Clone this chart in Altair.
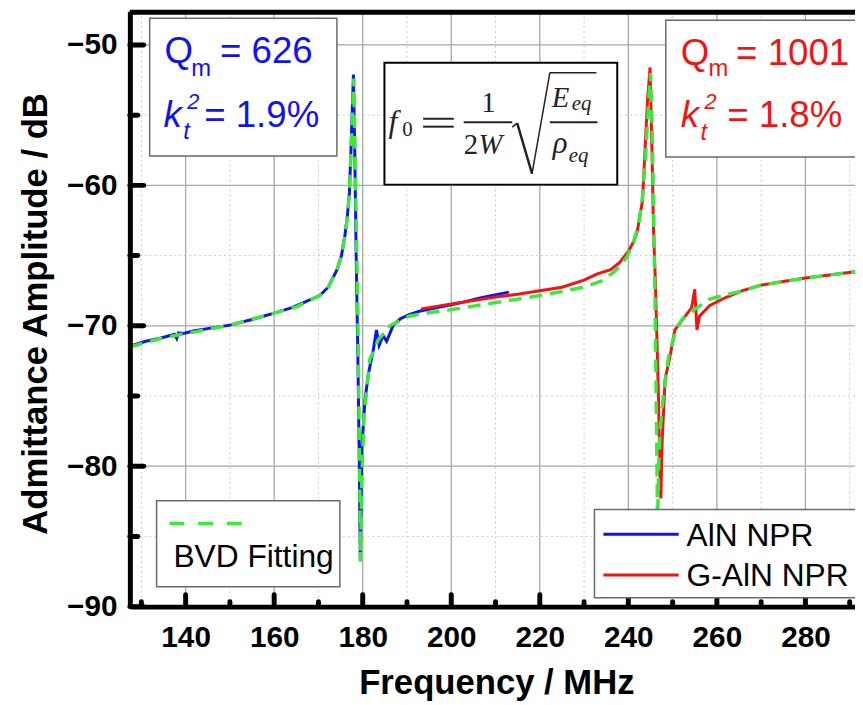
import altair as alt
import pandas as pd

# ---------------- data ----------------
blue_f = [127.4, 131, 134, 137.5, 138.0, 138.4, 139.5, 142, 146, 150, 155, 160, 164, 167, 170.3, 172.2,
          174.2, 175.2, 176.0, 176.5, 177.0, 177.4, 177.9, 178.2, 178.5, 178.9, 179.2, 179.45, 179.8,
          180.5, 181.3, 182.4, 183.1, 183.7, 184.6, 185.4, 186.9, 188.5, 190.5, 193, 196, 200, 203,
          206, 209, 213]
blue_a = [-71.45, -71.1, -70.9, -70.6, -70.9, -70.5, -70.55, -70.35, -70.15, -69.95, -69.55, -69.1,
          -68.7, -68.3, -67.85, -67.25, -66.0, -65.0, -63.5, -62.3, -60.5, -57.0, -52.1, -57.5, -64.5,
          -72.0, -79.0, -86.7, -78.8, -75.3, -73.4, -71.7, -70.3, -71.4, -70.7, -71.1, -69.95, -69.5,
          -69.2, -68.95, -68.75, -68.5, -68.3, -68.05, -67.85, -67.6]

red_f = [193.2, 196, 200, 205, 210, 215, 220, 225, 230, 233, 236, 238, 240, 241.2, 242.0, 243.2,
         244.3, 244.9, 245.3, 245.7, 246.1, 246.4, 246.8, 247.1, 247.35, 247.6, 248.3, 249.4, 250.5,
         252.4, 254.3, 255.0, 255.5, 256.1, 258.4, 262.1, 265.8, 270, 275, 280, 285, 291.2]
red_a = [-68.8, -68.65, -68.45, -68.2, -67.95, -67.75, -67.5, -67.25, -66.75, -66.3, -66.0, -65.5,
         -64.7, -64.0, -63.3, -61.1, -54.1, -51.6, -57.0, -63.3, -66.8, -70.3, -75.0, -80.0, -82.3,
         -78.5, -73.8, -72.2, -70.3, -69.5, -68.7, -67.4, -70.3, -69.3, -68.55, -67.97, -67.5, -67.1,
         -66.85, -66.6, -66.4, -66.15]

bvd_f = [127.4, 135, 140, 150, 160, 165, 170.3, 172.2, 174.2, 175.2, 176.0, 176.5, 177.0, 177.5,
         178.0, 178.4, 178.9, 179.3, 179.5, 179.8, 180.3, 181.6, 183.5, 186.1, 190.6, 194.3, 200, 205,
         210, 215, 220, 225, 230, 234, 237, 239.7, 241.2, 242.3, 243.2, 243.9, 244.6, 245.0, 245.4,
         245.8, 246.1, 246.4, 246.6, 246.85, 247.2, 247.9, 249.1, 250.9, 252.5, 254.6, 258.4, 262,
         265.8, 270, 275, 280, 285, 291.2]
bvd_a = [-71.5, -70.85, -70.55, -69.95, -69.1, -68.65, -67.85, -67.25, -66.0, -65.0, -63.6, -62.4,
         -60.5, -56.5, -52.4, -60.0, -69.0, -80.0, -86.8, -81.0, -76.4, -72.4, -71.0, -70.0, -69.3,
         -69.1, -68.85, -68.6, -68.35, -68.1, -67.85, -67.55, -67.25, -66.8, -66.1, -65.1, -64.0,
         -62.8, -60.8, -58.0, -54.0, -52.0, -56.0, -63.5, -70.0, -78.0, -84.5, -80.0, -77.4, -75.0,
         -72.2, -70.1, -69.4, -68.9, -68.1, -67.8, -67.5, -67.1, -66.85, -66.6, -66.4, -66.15]

x_major = [140, 160, 180, 200, 220, 240, 260, 280]
x_minor = [130, 150, 170, 190, 210, 230, 250, 270, 290]
y_major = [-90, -80, -70, -60, -50]
y_minor = [-85, -75, -65, -55]

series_names = ["AlN NPR", "G-AlN NPR", "BVD Fitting"]

# ---------------- styling ----------------
W, H = 732, 601
FONT = "Liberation Sans"
SERIF = "Liberation Serif"
BLUE = "#1212f0"
RED = "#f01414"
GREEN = "#3de83d"
FORM = "#222222"

xs = alt.Scale(domain=[127.4, 291.2], nice=False, zero=False)
ys = alt.Scale(domain=[-90, -47.6], nice=False, zero=False)

x_axis = alt.Axis(values=x_major, format="d", grid=False, ticks=False,
                  labelFont=FONT, labelFontSize=30, labelFontWeight="bold", labelColor="black",
                  labelPadding=16, labelFlush=False, labelOverlap=False,
                  domainColor="black", domainWidth=5,
                  title="Frequency / MHz", titleFont=FONT, titleFontSize=35, titleFontWeight="bold",
                  titleColor="black", titleX=370, titleY=88, titleBaseline="alphabetic",
                  titleAlign="center", zindex=1)
y_axis = alt.Axis(values=y_major, format="d", grid=False, ticks=False,
                  labelFont=FONT, labelFontSize=30, labelFontWeight="bold", labelColor="black",
                  labelPadding=13, labelFlush=False, labelOverlap=False,
                  domainColor="black", domainWidth=5,
                  title="Admittance Amplitude / dB", titleFont=FONT, titleFontSize=35,
                  titleFontWeight="bold", titleColor="black", titleAngle=270, titleX=-84, titleY=305,
                  titleBaseline="alphabetic", titleAlign="center", zindex=1)

X = lambda f: alt.X(f, scale=xs, axis=x_axis)
Y = lambda f: alt.Y(f, scale=ys, axis=y_axis)

one = pd.DataFrame({"k": [0]})


def vgrid(vals, **kw):
    return alt.Chart(pd.DataFrame({"v": vals})).mark_rule(**kw).encode(x=X("v:Q"))


def hgrid(vals, **kw):
    return alt.Chart(pd.DataFrame({"v": vals})).mark_rule(**kw).encode(y=Y("v:Q"))


def seg(x1, y1, x2, y2, **kw):
    return alt.Chart(one).mark_rule(**kw).encode(
        x=alt.value(x1), y=alt.value(y1), x2=alt.value(x2), y2=alt.value(y2))


def box(x1, y1, x2, y2, stroke, sw):
    return alt.Chart(one).mark_rect(fill="white", stroke=stroke, strokeWidth=sw).encode(
        x=alt.value(x1), y=alt.value(y1), x2=alt.value(x2), y2=alt.value(y2))


def txt(s, x, y, size, color="black", font=FONT, style="normal", align="left"):
    return alt.Chart(one).mark_text(text=s, font=font, fontSize=size, fontStyle=style,
                                    color=color, align=align, baseline="alphabetic").encode(
        x=alt.value(x), y=alt.value(y))


layers = []
# grid
layers.append(vgrid(x_minor, color="#c9c9c9", strokeWidth=1, strokeDash=[2, 3]))
layers.append(hgrid(y_minor, color="#c9c9c9", strokeWidth=1, strokeDash=[2, 3]))
layers.append(vgrid(x_major, color="#a8a8a8", strokeWidth=1.3))
layers.append(hgrid(y_major, color="#a8a8a8", strokeWidth=1.3))

# curves
blue_df = pd.DataFrame({"f": blue_f, "a": blue_a})
red_df = pd.DataFrame({"f": red_f, "a": red_a})
bvd_df = pd.DataFrame({"f": bvd_f, "a": bvd_a})
layers.append(alt.Chart(blue_df).mark_line(color=BLUE, strokeWidth=3, clip=True).encode(
    x=X("f:Q"), y=Y("a:Q")))
layers.append(alt.Chart(red_df).mark_line(color=RED, strokeWidth=3, clip=True).encode(
    x=X("f:Q"), y=Y("a:Q")))
layers.append(alt.Chart(bvd_df).mark_line(color=GREEN, strokeWidth=3.5, strokeDash=[13, 8],
                                          clip=True).encode(x=X("f:Q"), y=Y("a:Q")))

# inward ticks + top frame
tk = dict(color="black", strokeWidth=5, strokeCap="round")
layers.append(alt.Chart(pd.DataFrame({"v": x_major})).mark_rule(**tk).encode(
    x=X("v:Q"), y=alt.value(H), y2=alt.value(H - 12)))
layers.append(alt.Chart(pd.DataFrame({"v": x_minor})).mark_rule(**tk).encode(
    x=X("v:Q"), y=alt.value(H), y2=alt.value(H - 5)))
layers.append(alt.Chart(pd.DataFrame({"v": y_major})).mark_rule(**tk).encode(
    y=Y("v:Q"), x=alt.value(0), x2=alt.value(14)))
layers.append(alt.Chart(pd.DataFrame({"v": y_minor})).mark_rule(**tk).encode(
    y=Y("v:Q"), x=alt.value(0), x2=alt.value(8)))
layers.append(seg(0, 1, W, 1, color="black", strokeWidth=5))

# Qm / kt2 box (blue)
layers.append(box(20, 7, 209, 146, "#6a6a6a", 1.5))
layers.append(txt("Q", 35, 52, 37, BLUE))
layers.append(txt("m", 62, 65, 24, BLUE))
layers.append(txt("= 626", 91, 52, 37, BLUE))
layers.append(txt("k", 34, 117, 37, BLUE, style="italic"))
layers.append(txt("2", 58, 99, 22, BLUE, style="italic"))
layers.append(txt("t", 54, 129, 24, BLUE, style="italic"))
layers.append(txt("= 1.9%", 75, 117, 37, BLUE))

# Qm / kt2 box (red)
layers.append(box(541, 9, 760, 147, "#6a6a6a", 1.5))
layers.append(txt("Q", 556, 54, 37, RED))
layers.append(txt("m", 584, 65, 24, RED))
layers.append(txt("= 1001", 612, 54, 37, RED))
layers.append(txt("k", 556, 117, 37, RED, style="italic"))
layers.append(txt("2", 580, 99, 22, RED, style="italic"))
layers.append(txt("t", 576, 130, 24, RED, style="italic"))
layers.append(txt("= 1.8%", 603, 117, 37, RED))

# formula box
layers.append(box(257, 52, 492, 175, "black", 2))
layers.append(txt("f", 261, 122, 32, FORM, font=SERIF, style="italic"))
layers.append(txt("0", 275, 126, 21, FORM, font=SERIF))
layers.append(seg(296, 108.5, 327, 108.5, color=FORM, strokeWidth=2))
layers.append(seg(296, 116.5, 327, 116.5, color=FORM, strokeWidth=2))
layers.append(txt("1", 362, 102, 29, FORM, font=SERIF, align="center"))
layers.append(seg(337, 112, 386, 112, color=FORM, strokeWidth=2))
layers.append(txt("2", 337, 144, 29, FORM, font=SERIF))
layers.append(txt("W", 352, 144, 29, FORM, font=SERIF, style="italic"))
layers.append(seg(386, 117, 391, 113, color=FORM, strokeWidth=1.5))
layers.append(seg(391, 113, 406, 164, color=FORM, strokeWidth=2.5))
layers.append(seg(406, 164, 424, 62, color=FORM, strokeWidth=1.5))
layers.append(seg(424, 62, 471, 62, color=FORM, strokeWidth=1.5))
layers.append(txt("E", 426, 97, 29, FORM, font=SERIF, style="italic"))
layers.append(txt("eq", 446, 100, 21, FORM, font=SERIF, style="italic"))
layers.append(seg(424, 112, 472, 112, color=FORM, strokeWidth=2))
layers.append(txt("ρ", 427, 143, 31, FORM, font=SERIF, style="italic"))
layers.append(txt("eq", 443, 152, 21, FORM, font=SERIF, style="italic"))

# legend: BVD fitting (bottom left)
layers.append(box(27, 494, 212, 581, "#6a6a6a", 1.5))
layers.append(seg(40, 517, 114, 517, color=GREEN, strokeWidth=3.5, strokeDash=[15, 14]))
layers.append(txt(series_names[2], 44, 561, 32))

# legend: measured curves (bottom right)
layers.append(box(469, 503, 760, 592, "#6a6a6a", 1.5))
layers.append(seg(478, 528, 554, 528, color=BLUE, strokeWidth=3))
layers.append(txt(series_names[0], 562, 540, 32))
layers.append(seg(478, 569, 554, 569, color=RED, strokeWidth=3))
layers.append(txt(series_names[1], 562, 580, 32))

chart = alt.layer(*layers).properties(
    width=W, height=H,
    autosize=alt.AutoSizeParams(type="none"),
    padding={"left": 123, "top": 0, "right": 0, "bottom": 96},
).configure_view(stroke=None)

chart.save("out.html", embed_options={"renderer": "svg", "actions": False})
